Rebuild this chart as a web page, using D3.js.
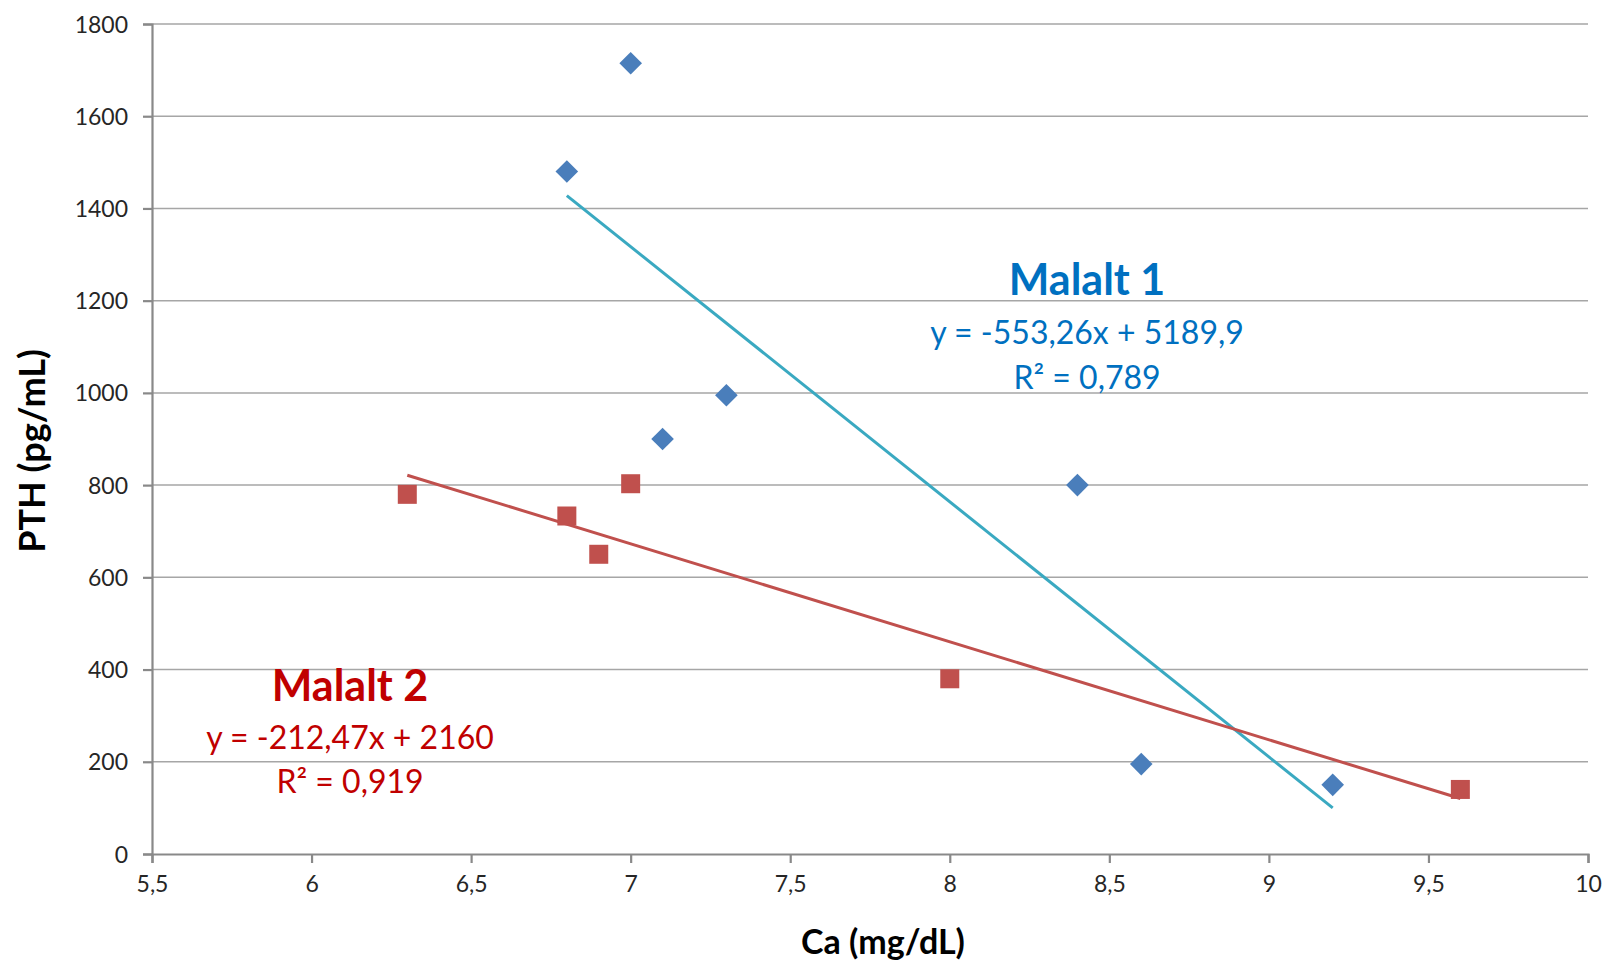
<!DOCTYPE html>
<html>
<head>
<meta charset="utf-8">
<script src="https://cdn.jsdelivr.net/npm/d3@7"></script>
<style>
  body { margin: 0; background: #fff; }
  svg text { font-family: Lato, "Open Sans", sans-serif; }
</style>
</head>
<body>
<div id="chart"></div>
<script>
// data
const malalt1Ca = [6.8, 7.0, 7.1, 7.3, 8.4, 8.6, 9.2]
const malalt1Pth = [1480, 1715, 900, 995, 800, 195, 150]
const malalt2Ca = [6.3, 6.8, 6.9, 7.0, 8.0, 9.6]
const malalt2Pth = [780, 733, 650, 803, 380, 140]

// trendline coefficients as printed on the chart
const trend1 = { slope: -553.26, intercept: 5189.9 }
const trend2 = { slope: -212.47, intercept: 2160 }

const xTicks = [5.5, 6, 6.5, 7, 7.5, 8, 8.5, 9, 9.5, 10]
const yTicks = [0, 200, 400, 600, 800, 1000, 1200, 1400, 1600, 1800]

const labels1 = ["Malalt 1", "y = -553,26x + 5189,9", "R² = 0,789"]
const labels2 = ["Malalt 2", "y = -212,47x + 2160", "R² = 0,919"]

const W = 1605, H = 963
const margin = { top: 24, right: 17, bottom: 109, left: 152 }
const width = W - margin.left - margin.right
const height = H - margin.top - margin.bottom

const svg = d3.select("#chart").append("svg")
    .attr("width", W)
    .attr("height", H)

const g = svg.append("g")
    .attr("transform", "translate(" + margin.left + "," + margin.top + ")")

const x = d3.scaleLinear().domain([5.5, 10]).range([0, width])
const y = d3.scaleLinear().domain([0, 1800]).range([height, 0])

const fmt = d => String(d).replace(".", ",")
const axisColor = "#898989"

// gridlines
g.append("g")
    .selectAll("line")
    .data(yTicks.filter(d => d > 0))
    .enter().append("line")
    .attr("x1", 0).attr("x2", width)
    .attr("y1", d => y(d)).attr("y2", d => y(d))
    .attr("stroke", "#a6a6a6")
    .attr("stroke-width", 1.5)

// axes
const yAxis = g.append("g")
    .call(d3.axisLeft(y).tickValues(yTicks).tickSize(9).tickPadding(15).tickFormat(fmt))
const xAxis = g.append("g")
    .attr("transform", "translate(0," + height + ")")
    .call(d3.axisBottom(x).tickValues(xTicks).tickSize(9).tickPadding(13).tickFormat(fmt))

;[yAxis, xAxis].forEach(a => {
    a.select(".domain").attr("stroke", axisColor).attr("stroke-width", 2.2)
    a.selectAll(".tick line").attr("stroke", axisColor).attr("stroke-width", 2.2)
    a.selectAll(".tick text").attr("fill", "#262626").style("font-size", "23px")
})
yAxis.selectAll(".tick text").attr("dy", "0.35em")

// axis titles
svg.append("text")
    .attr("transform", "translate(31," + (margin.top + height / 2 + 12) + ") rotate(-90)")
    .attr("text-anchor", "middle")
    .attr("dominant-baseline", "central")
    .style("font-size", "36px")
    .style("font-weight", "bold")
    .attr("fill", "#000")
    .text("PTH (pg/mL)")

svg.append("text")
    .attr("x", 883)
    .attr("y", 940)
    .attr("text-anchor", "middle")
    .attr("dominant-baseline", "central")
    .style("font-size", "34px")
    .style("font-weight", "bold")
    .attr("fill", "#000")
    .text("Ca (mg/dL)")

// trendlines
function drawTrend(xs, coef, color) {
    const ends = d3.extent(xs)
    g.append("line")
        .attr("x1", x(ends[0])).attr("y1", y(coef.slope * ends[0] + coef.intercept))
        .attr("x2", x(ends[1])).attr("y2", y(coef.slope * ends[1] + coef.intercept))
        .attr("stroke", color)
        .attr("stroke-width", 3)
}
drawTrend(malalt1Ca, trend1, "#3aa9c1")
drawTrend(malalt2Ca, trend2, "#c0504d")

// markers
const diamond = d3.symbol().type(d3.symbolSquare).size(16 * 16)
g.append("g")
    .selectAll("path")
    .data(d3.zip(malalt1Ca, malalt1Pth))
    .enter().append("path")
    .attr("d", diamond)
    .attr("transform", d => "translate(" + x(d[0]) + "," + y(d[1]) + ") rotate(45)")
    .attr("fill", "#4a7ebb")

g.append("g")
    .selectAll("rect")
    .data(d3.zip(malalt2Ca, malalt2Pth))
    .enter().append("rect")
    .attr("x", d => x(d[0]) - 9.5)
    .attr("y", d => y(d[1]) - 9.5)
    .attr("width", 19).attr("height", 19)
    .attr("fill", "#c0504d")

// annotations
function drawLabels(lines, cx, ys, color) {
    lines.forEach((t, i) => {
        svg.append("text")
            .attr("x", cx)
            .attr("y", ys[i])
            .attr("text-anchor", "middle")
            .attr("dominant-baseline", "central")
            .style("font-size", i === 0 ? "43px" : "32px")
            .style("font-weight", i === 0 ? "bold" : "normal")
            .attr("fill", color)
            .text(t)
    })
}
drawLabels(labels1, 1087, [278, 331, 376], "#0070c0")
drawLabels(labels2, 350, [684, 736, 780], "#c00000")
</script>
</body>
</html>
